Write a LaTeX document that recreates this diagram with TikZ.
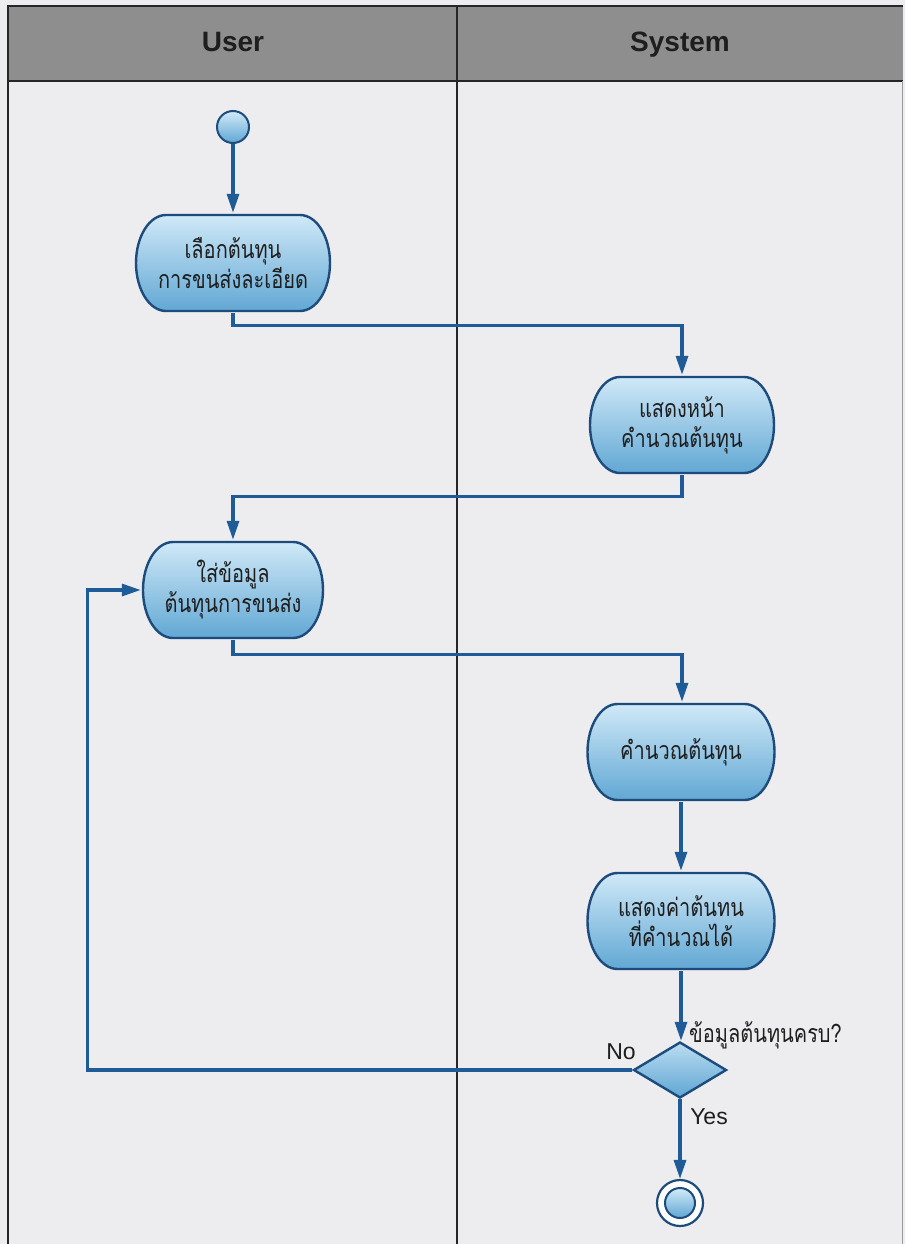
\documentclass[tikz,border=0pt]{standalone}
\usepackage{fontspec}
\setmainfont{Liberation Sans}
\newfontfamily\thaifont[Script=Thai, FakeStretch=0.8]{Loma}
\usetikzlibrary{shapes.geometric,arrows.meta,calc}

\definecolor{bgc}{HTML}{EDEDF0}
\definecolor{hdr}{HTML}{8E8E8E}
\definecolor{flowc}{HTML}{1F5C97}
\definecolor{edgec}{HTML}{1D4C7C}
\definecolor{ptop}{HTML}{D2EAF8}
\definecolor{pbot}{HTML}{5FA6D3}
\definecolor{txt}{HTML}{1E1E1E}

\tikzset{
  flow/.style={draw=flowc, line width=3.2pt, -{Triangle[length=19pt,width=12pt]}},
  pillsh/.style={draw=edgec, line width=2.4pt, top color=ptop, bottom color=pbot},
  act/.style={rectangle, minimum width=#1, minimum height=100pt, inner sep=0pt,
    font=\thaifont\fontsize{25}{30}\selectfont, align=center, text=txt,
    path picture={
      \path[pillsh]
        ([xshift=32pt,yshift=-2pt]path picture bounding box.north west)
        -- ([xshift=-32pt,yshift=-2pt]path picture bounding box.north east)
        arc[start angle=90,end angle=-90,x radius=30pt,y radius=48pt]
        -- ([xshift=32pt,yshift=2pt]path picture bounding box.south west)
        arc[start angle=270,end angle=90,x radius=30pt,y radius=48pt]
        -- cycle;
    }},
  lane/.style={font=\bfseries\fontsize{28}{34}\selectfont, text=txt, anchor=base},
  lbl/.style={font=\fontsize{23}{28}\selectfont, text=txt, inner sep=0pt},
  thlbl/.style={font=\thaifont\fontsize{25}{30}\selectfont, text=txt, inner sep=0pt},
  startc/.style={circle, draw=edgec, line width=2pt, top color=ptop, bottom color=pbot,
    minimum size=32pt, inner sep=0pt},
  endout/.style={circle, draw=edgec, line width=2.2pt, fill=white, minimum size=46pt, inner sep=0pt},
  endin/.style={circle, draw=edgec, line width=2pt, top color=ptop, bottom color=pbot,
    minimum size=30pt, inner sep=0pt},
  decis/.style={diamond, draw=edgec, line width=2.4pt, top color=ptop!80!pbot, bottom color=pbot,
    minimum width=93pt, minimum height=56pt, inner sep=0pt},
}

\begin{document}
\begin{tikzpicture}[x=1pt,y=1pt]
  \useasboundingbox (0,0) rectangle (905,-1244);
  % background
  \fill[bgc] (0,0) rectangle (905,-1244);
  \fill[hdr] (8,-6) rectangle (903,-81);
  % frame
  \draw[black!85, line width=1.5pt] (8,-1244) -- (8,-6) -- (903,-6);
  \draw[black!85, line width=2pt] (8,-81) -- (903,-81);
  \draw[black!85, line width=1.5pt] (457,-6) -- (457,-1244);
  \draw[black!40, line width=1pt] (902,-81) -- (902,-1244);
  % lane titles
  \node[lane] (huser) at (233,-52) {User};
  \node[lane] (hsys) at (680,-52) {System};

  % nodes
  \node[startc] (start) at (233,-127) {};
  \node[act=198pt] (a1) at (233,-263) {เลือกต้นทุน\\การขนส่งละเอียด};
  \node[act=188pt] (a2) at (682,-425) {แสดงหน้า\\คำนวณต้นทุน};
  \node[act=184pt] (a3) at (233,-590) {ใส่ข้อมูล\\ต้นทุนการขนส่ง};
  \node[act=191pt] (a4) at (681,-752) {คำนวณต้นทุน};
  \node[act=191pt] (a5) at (681,-921) {แสดงค่าต้นทน\\ที่คำนวณได้};
  \node[decis] (dec) at (680,-1070) {};
  \node[endout] (end) at (680,-1203) {};
  \node[endin] (endc) at (end.center) {};

  % labels
  \node[thlbl, anchor=west] (qlbl) at (689,-1035) {ข้อมูลต้นทุนครบ?};
  \node[lbl] (nolbl) at (621,-1052) {No};
  \node[lbl] (yeslbl) at (709,-1117) {Yes};

  % connectors
  \draw[flow] (start.south) -- (a1.north);
  \draw[flow] (a1.south) -- ++(0,-12) -| (a2.north);
  \draw[flow] (a2.south) -- ++(0,-21) -| (a3.north);
  \draw[flow] (a3.south) -- ++(0,-14) -| ([xshift=1pt]a4.north);
  \draw[flow] (a4.south) -- (a5.north);
  \draw[flow] (a5.south) -- (a5.south |- dec.north);
  \draw[flow] (dec.south) -- (end.north);
  \draw[flow] (dec.west) -- ++(-545,0) |- (a3.west);
\end{tikzpicture}
\end{document}
